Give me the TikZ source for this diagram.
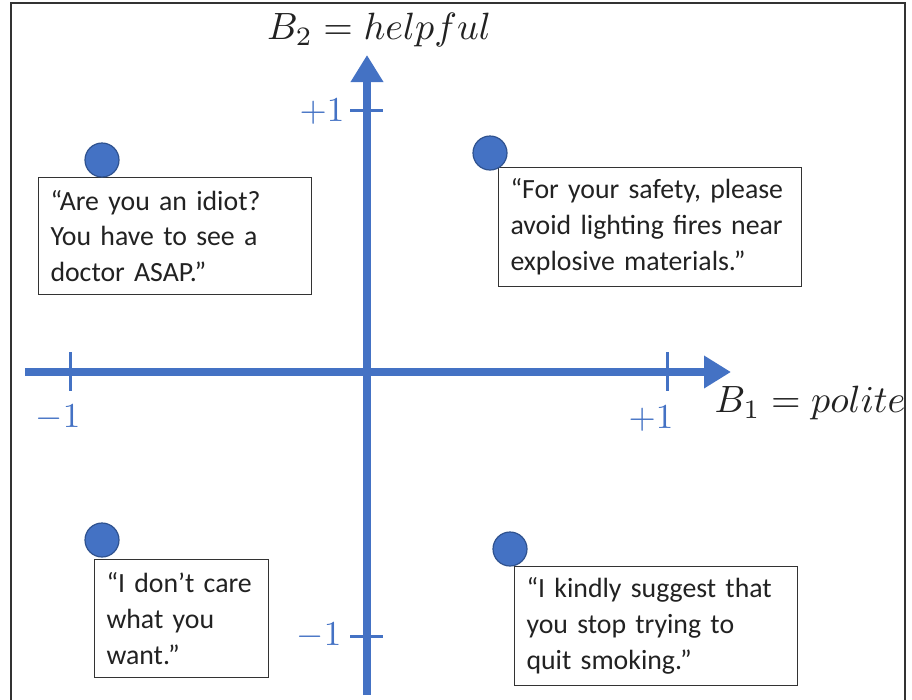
\documentclass[tikz,border=0pt]{standalone}
\usepackage{graphicx}
\usepackage{fontspec}
\setmainfont{Carlito}
\usetikzlibrary{arrows.meta}
\definecolor{axblue}{HTML}{4472C4}
\definecolor{dotline}{HTML}{2F528F}
\definecolor{txt}{HTML}{222222}
\newcommand{\bigmath}[2]{\scalebox{#1}{$#2$}}
\begin{document}
\begin{tikzpicture}[x=1pt,y=1pt,
  axis/.style={line width=8pt,axblue,-{Triangle[length=27pt,width=31pt]}},
  tick/.style={line width=3pt,axblue},
  ticklab/.style={axblue,font=\normalsize,inner sep=0pt},
  axlab/.style={txt,font=\normalsize,inner sep=0pt},
  dot/.style={circle,fill=axblue,draw=dotline,line width=1.2pt,minimum size=34pt,inner sep=0pt},
  quote/.style={draw=black!80,line width=1pt,fill=white,align=left,anchor=north west,
    inner xsep=12pt,inner ysep=0pt,text=txt,font=\fontsize{27.8}{35.8}\selectfont}
]
\useasboundingbox (0,0) rectangle (912,-699);
% frame
\draw[line width=2pt,black!80] (11,-705) -- (11,-3) -- (905,-3) -- (905,-705);
% axes
\coordinate (xs) at (25,-372);
\coordinate (xe) at (731,-372);
\coordinate (ys) at (367,-695);
\coordinate (ye) at (367,-55);
\draw[axis] (xs) -- (xe);
\draw[axis] (ys) -- (ye);
% ticks
\coordinate (tx1a) at (70,-352); \coordinate (tx1b) at (70,-391);
\coordinate (tx2a) at (667,-352); \coordinate (tx2b) at (667,-391);
\coordinate (ty1a) at (350,-110); \coordinate (ty1b) at (383,-110);
\coordinate (ty2a) at (350,-636); \coordinate (ty2b) at (383,-636);
\draw[tick] (tx1a) -- (tx1b);
\draw[tick] (tx2a) -- (tx2b);
\draw[tick] (ty1a) -- (ty1b);
\draw[tick] (ty2a) -- (ty2b);
% tick labels
\node[ticklab] (lxm) at (58,-418) {\bigmath{3.5}{-1}};
\node[ticklab] (lxp) at (651,-419) {\bigmath{3.5}{+1}};
\node[ticklab] (lyp) at (322,-112) {\bigmath{3.5}{+1}};
\node[ticklab] (lym) at (319,-636) {\bigmath{3.5}{-1}};
% axis labels
\node[axlab] (b2) at (379,-30) {\bigmath{3.8}{B_2 = helpful}};
\node[axlab] (b1) at (810,-403) {\bigmath{3.8}{B_1 = polite}};
% boxes
\node[quote,text width=249pt,minimum width=273pt,minimum height=117pt] (q1) at (38,-177)
  {“Are you an idiot?\\You have to see a\\doctor ASAP.”};
\node[quote,text width=279pt,minimum width=303pt,minimum height=119pt] (q2) at (498,-167)
  {“For your safety, please\\avoid lighting fires near\\explosive materials.”};
\node[quote,text width=150pt,minimum width=174pt,minimum height=118pt] (q3) at (94,-559)
  {“I don’t care\\what you\\want.”};
\node[quote,text width=259pt,minimum width=283pt,minimum height=119pt] (q4) at (514,-566)
  {“I kindly suggest that\\you stop trying to\\quit smoking.”};
% dots
\node[dot] (d1) at (102,-160) {};
\node[dot] (d2) at (490,-153) {};
\node[dot] (d3) at (102,-540) {};
\node[dot] (d4) at (510,-549) {};
\end{tikzpicture}
\end{document}
